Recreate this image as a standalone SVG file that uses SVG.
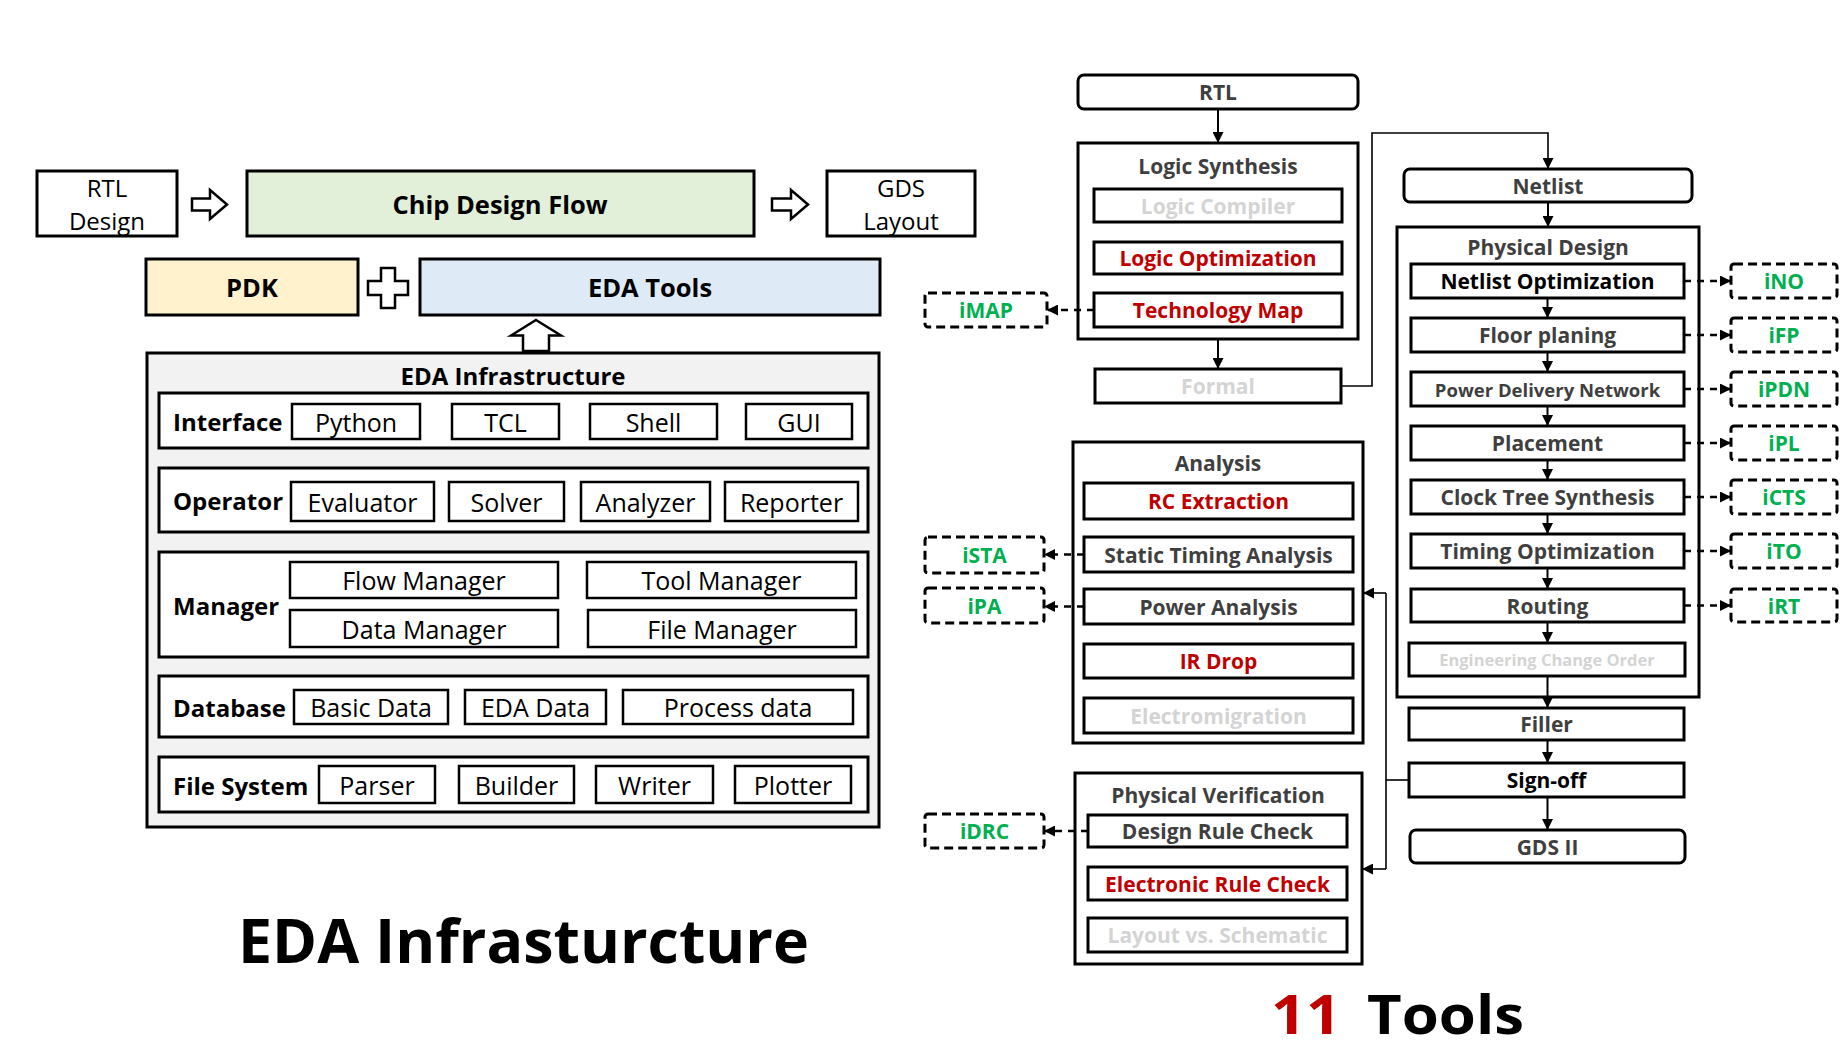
<svg xmlns="http://www.w3.org/2000/svg" width="1845" height="1051" viewBox="0 0 1845 1051">
<defs>
<style>
.b{fill:#fff;stroke:#000;stroke-width:3}
.b2{fill:#fff;stroke:#000;stroke-width:2.5}
.d{fill:#fff;stroke:#000;stroke-width:3;stroke-dasharray:9 5}
.ho{fill:#fff;stroke:#000;stroke-width:2.5;stroke-linejoin:miter}
text{font-family:"Open Sans","Noto Sans","DejaVu Sans",sans-serif;text-anchor:middle;dominant-baseline:central;fill:#000}
.L{font-size:25px}
.L2{font-size:24px}
.LB{font-size:25.5px;font-weight:bold}
.lab{font-size:24px;font-weight:bold;text-anchor:start}
.R{font-size:21px;font-weight:bold;fill:#3f3f3f}
.red{fill:#c00000}
.pale{fill:#d4d4d4}
.grn{fill:#00b050}
.blk{fill:#000}
.big{font-size:60px;font-weight:bold;text-anchor:start;dominant-baseline:auto}
.c{fill:none;stroke:#000;stroke-width:2}
.ct{fill:none;stroke:#000;stroke-width:1.6}
.cd{fill:none;stroke:#000;stroke-width:2.5;stroke-dasharray:7 6}
</style>
<marker id="ah" viewBox="0 0 10 10" refX="10" refY="5" markerWidth="11" markerHeight="11" markerUnits="userSpaceOnUse" orient="auto">
<path d="M0,0 L10,5 L0,10 z" fill="#000"/>
</marker>
</defs>

<rect width="1845" height="1051" fill="#fff"/>

<!-- ===== Left: design flow overview ===== -->
<g id="rtl-design">
<rect class="b" x="37" y="171" width="140" height="65"/>
<text class="L2" x="107" y="187">RTL</text>
<text class="L2" x="107" y="220">Design</text>
</g>
<g id="arrow-in">
<polygon class="ho" points="192,198.5 210,198.5 210,190 227,204.5 210,219 210,210.5 192,210.5"/>
</g>
<g id="chip-design-flow">
<rect class="b" x="247" y="171" width="507" height="65" style="fill:#e2f0d9"/>
<text class="LB" x="500" y="204">Chip Design Flow</text>
</g>
<g id="arrow-out">
<polygon class="ho" points="772,198.5 791,198.5 791,190 808,204.5 791,219 791,210.5 772,210.5"/>
</g>
<g id="gds-layout">
<rect class="b" x="827" y="171" width="148" height="65"/>
<text class="L2" x="901" y="187">GDS</text>
<text class="L2" x="901" y="220">Layout</text>
</g>
<g id="pdk">
<rect class="b" x="146" y="259" width="212" height="56" style="fill:#fff2cc"/>
<text class="LB" x="252" y="287">PDK</text>
</g>
<g id="plus">
<polygon class="ho" points="381,268 395,268 395,281 408,281 408,295 395,295 395,308 381,308 381,295 368,295 368,281 381,281"/>
</g>
<g id="eda-tools">
<rect class="b" x="420" y="259" width="460" height="56" style="fill:#deebf7"/>
<text class="LB" x="650" y="287">EDA Tools</text>
</g>
<g id="arrow-up">
<polygon class="ho" points="536,320 561,335.5 549,335.5 549,351 523,351 523,335.5 511,335.5"/>
</g>

<!-- ===== Left: infrastructure stack ===== -->
<g id="eda-infrastructure">
<rect class="b" x="147" y="353" width="732" height="474" style="fill:#f2f2f2"/>
<text class="lab" x="513" y="375" style="text-anchor:middle">EDA Infrastructure</text>

<g id="layer-interface">
<rect class="b" x="159" y="393" width="709" height="55"/>
<text class="lab" x="173" y="421">Interface</text>
<rect class="b2" x="292" y="404" width="128" height="35"/><text class="L" x="356" y="421.5">Python</text>
<rect class="b2" x="452" y="404" width="107" height="35"/><text class="L" x="505.5" y="421.5">TCL</text>
<rect class="b2" x="590" y="404" width="127" height="35"/><text class="L" x="653.5" y="421.5">Shell</text>
<rect class="b2" x="746" y="404" width="106" height="35"/><text class="L" x="799" y="421.5">GUI</text>
</g>

<g id="layer-operator">
<rect class="b" x="159" y="468" width="709" height="64"/>
<text class="lab" x="173" y="500">Operator</text>
<rect class="b2" x="291" y="482" width="143" height="39"/><text class="L" x="362.5" y="501.5">Evaluator</text>
<rect class="b2" x="449" y="482" width="115" height="39"/><text class="L" x="506.5" y="501.5">Solver</text>
<rect class="b2" x="581" y="482" width="129" height="39"/><text class="L" x="645.5" y="501.5">Analyzer</text>
<rect class="b2" x="725" y="482" width="133" height="39"/><text class="L" x="791.5" y="501.5">Reporter</text>
</g>

<g id="layer-manager">
<rect class="b" x="159" y="552" width="709" height="105"/>
<text class="lab" x="173" y="605">Manager</text>
<rect class="b2" x="290" y="562" width="268" height="36"/><text class="L" x="424" y="580">Flow Manager</text>
<rect class="b2" x="587" y="562" width="269" height="36"/><text class="L" x="721.5" y="580">Tool Manager</text>
<rect class="b2" x="290" y="610" width="268" height="37"/><text class="L" x="424" y="628.5">Data Manager</text>
<rect class="b2" x="588" y="610" width="268" height="37"/><text class="L" x="722" y="628.5">File Manager</text>
</g>

<g id="layer-database">
<rect class="b" x="159" y="676" width="709" height="61"/>
<text class="lab" x="173" y="707">Database</text>
<rect class="b2" x="294" y="690" width="154" height="34"/><text class="L" x="371" y="707">Basic Data</text>
<rect class="b2" x="465" y="690" width="141" height="34"/><text class="L" x="535.5" y="707">EDA Data</text>
<rect class="b2" x="623" y="690" width="230" height="34"/><text class="L" x="738" y="707">Process data</text>
</g>

<g id="layer-filesystem">
<rect class="b" x="159" y="757" width="709" height="55"/>
<text class="lab" x="173" y="785">File System</text>
<rect class="b2" x="319" y="766" width="116" height="37"/><text class="L" x="377" y="784.5">Parser</text>
<rect class="b2" x="459" y="766" width="115" height="37"/><text class="L" x="516.5" y="784.5">Builder</text>
<rect class="b2" x="596" y="766" width="117" height="37"/><text class="L" x="654.5" y="784.5">Writer</text>
<rect class="b2" x="735" y="766" width="116" height="37"/><text class="L" x="793" y="784.5">Plotter</text>
</g>
</g>

<g id="title-left">
<text class="big" x="238" y="963" textLength="571" lengthAdjust="spacingAndGlyphs">EDA Infrasturcture</text>
</g>
<g id="title-right">
<text class="big red" x="1271" y="1034" textLength="70" lengthAdjust="spacingAndGlyphs" style="font-size:54px">11</text>
<text class="big" x="1367" y="1034" textLength="157" lengthAdjust="spacingAndGlyphs" style="font-size:54px">Tools</text>
</g>

<!-- ===== Right: tool flow ===== -->
<g id="rtl">
<rect class="b" x="1078" y="75" width="280" height="34" rx="6"/>
<text class="R" x="1218" y="92">RTL</text>
</g>

<g id="logic-synthesis">
<rect class="b" x="1078" y="143" width="280" height="196"/>
<text class="R" x="1218" y="166">Logic Synthesis</text>
<rect class="b" x="1094" y="189" width="248" height="33"/><text class="R pale" x="1218" y="205.5">Logic Compiler</text>
<rect class="b" x="1094" y="242" width="248" height="32"/><text class="R red" x="1218" y="258">Logic Optimization</text>
<rect class="b" x="1094" y="293" width="248" height="34"/><text class="R red" x="1218" y="310">Technology Map</text>
</g>

<g id="imap">
<rect class="d" x="925" y="293" width="122" height="34" rx="3"/>
<text class="R grn" x="986" y="310">iMAP</text>
</g>

<g id="formal">
<rect class="b" x="1095" y="369" width="246" height="34"/>
<text class="R pale" x="1218" y="386">Formal</text>
</g>

<g id="netlist">
<rect class="b" x="1404" y="169" width="288" height="33" rx="6"/>
<text class="R" x="1548" y="185.5">Netlist</text>
</g>

<g id="physical-design">
<rect class="b" x="1397" y="227" width="302" height="470"/>
<text class="R" x="1548" y="247">Physical Design</text>
<rect class="b" x="1411" y="264" width="273" height="34"/><text class="R blk" x="1547.5" y="281">Netlist Optimization</text>
<rect class="b" x="1411" y="318" width="273" height="34"/><text class="R" x="1547.5" y="335">Floor planing</text>
<rect class="b" x="1411" y="372" width="273" height="34"/><text class="R" x="1547.5" y="389" style="font-size:18.5px">Power Delivery Network</text>
<rect class="b" x="1411" y="426" width="273" height="34"/><text class="R" x="1547.5" y="443">Placement</text>
<rect class="b" x="1411" y="480" width="273" height="34"/><text class="R" x="1547.5" y="497">Clock Tree Synthesis</text>
<rect class="b" x="1411" y="534" width="273" height="34"/><text class="R" x="1547.5" y="551">Timing Optimization</text>
<rect class="b" x="1411" y="589" width="273" height="33"/><text class="R" x="1547.5" y="605.5">Routing</text>
<rect class="b" x="1409" y="643" width="276" height="33"/><text class="R pale" x="1547" y="659.5" style="font-size:16.5px">Engineering Change Order</text>
</g>

<g id="filler">
<rect class="b" x="1409" y="708" width="275" height="32"/>
<text class="R" x="1546.5" y="724">Filler</text>
</g>
<g id="sign-off">
<rect class="b" x="1409" y="763" width="275" height="34"/>
<text class="R blk" x="1546.5" y="780">Sign-off</text>
</g>
<g id="gds-ii">
<rect class="b" x="1410" y="830" width="275" height="33" rx="6"/>
<text class="R" x="1547.5" y="846.5">GDS II</text>
</g>

<g id="ino"><rect class="d" x="1731" y="264" width="106" height="34" rx="3"/><text class="R grn" x="1784" y="281">iNO</text></g>
<g id="ifp"><rect class="d" x="1731" y="318" width="106" height="34" rx="3"/><text class="R grn" x="1784" y="335">iFP</text></g>
<g id="ipdn"><rect class="d" x="1731" y="372" width="106" height="34" rx="3"/><text class="R grn" x="1784" y="389">iPDN</text></g>
<g id="ipl"><rect class="d" x="1731" y="426" width="106" height="34" rx="3"/><text class="R grn" x="1784" y="443">iPL</text></g>
<g id="icts"><rect class="d" x="1731" y="480" width="106" height="34" rx="3"/><text class="R grn" x="1784" y="497">iCTS</text></g>
<g id="ito"><rect class="d" x="1731" y="534" width="106" height="34" rx="3"/><text class="R grn" x="1784" y="551">iTO</text></g>
<g id="irt"><rect class="d" x="1731" y="589" width="106" height="33" rx="3"/><text class="R grn" x="1784" y="605.5">iRT</text></g>

<g id="analysis">
<rect class="b" x="1073" y="442" width="290" height="301"/>
<text class="R" x="1218" y="463">Analysis</text>
<rect class="b" x="1084" y="483" width="269" height="36"/><text class="R red" x="1218.5" y="501">RC Extraction</text>
<rect class="b" x="1084" y="537" width="269" height="35"/><text class="R" x="1218.5" y="554.5">Static Timing Analysis</text>
<rect class="b" x="1084" y="589" width="269" height="35"/><text class="R" x="1218.5" y="606.5">Power Analysis</text>
<rect class="b" x="1084" y="644" width="269" height="34"/><text class="R red" x="1218.5" y="661">IR Drop</text>
<rect class="b" x="1084" y="698" width="269" height="35"/><text class="R pale" x="1218.5" y="715.5">Electromigration</text>
</g>

<g id="ista"><rect class="d" x="925" y="537" width="119" height="36" rx="3"/><text class="R grn" x="984.5" y="555">iSTA</text></g>
<g id="ipa"><rect class="d" x="925" y="588" width="119" height="35" rx="3"/><text class="R grn" x="984.5" y="605.5">iPA</text></g>

<g id="physical-verification">
<rect class="b" x="1075" y="773" width="287" height="191"/>
<text class="R" x="1218" y="795">Physical Verification</text>
<rect class="b" x="1088" y="815" width="259" height="32"/><text class="R" x="1217.5" y="831">Design Rule Check</text>
<rect class="b" x="1088" y="867" width="259" height="33"/><text class="R red" x="1217.5" y="883.5">Electronic Rule Check</text>
<rect class="b" x="1088" y="918" width="259" height="34"/><text class="R pale" x="1217.5" y="935">Layout vs. Schematic</text>
</g>

<g id="idrc"><rect class="d" x="925" y="814" width="119" height="34" rx="3"/><text class="R grn" x="984.5" y="831">iDRC</text></g>

<!-- ===== Connectors ===== -->
<g id="connectors">
<path class="c" d="M1218,109 V143" marker-end="url(#ah)"/>
<path class="c" d="M1218,339 V369" marker-end="url(#ah)"/>
<path class="ct" d="M1341,386 H1372 V133 H1548 V169" marker-end="url(#ah)"/>
<path class="c" d="M1548,202 V227" marker-end="url(#ah)"/>
<path class="c" d="M1547.5,298 V318" marker-end="url(#ah)"/>
<path class="c" d="M1547.5,352 V372" marker-end="url(#ah)"/>
<path class="c" d="M1547.5,406 V426" marker-end="url(#ah)"/>
<path class="c" d="M1547.5,460 V480" marker-end="url(#ah)"/>
<path class="c" d="M1547.5,514 V534" marker-end="url(#ah)"/>
<path class="c" d="M1547.5,568 V589" marker-end="url(#ah)"/>
<path class="c" d="M1547.5,622 V643" marker-end="url(#ah)"/>
<path class="c" d="M1547.5,676 V708" marker-end="url(#ah)"/>
<path class="c" d="M1547.5,740 V763" marker-end="url(#ah)"/>
<path class="c" d="M1547.5,797 V830" marker-end="url(#ah)"/>
<!-- sign-off feeds analysis and verification -->
<path class="ct" d="M1409,780 H1386"/>
<path class="ct" d="M1386,593 V869"/>
<path class="ct" d="M1386,593 H1363" marker-end="url(#ah)"/>
<path class="ct" d="M1386,869 H1362" marker-end="url(#ah)"/>
<!-- dashed links to tools -->
<path class="cd" d="M1094,310 H1047" marker-end="url(#ah)"/>
<path class="cd" d="M1084,554.5 H1044" marker-end="url(#ah)"/>
<path class="cd" d="M1084,606.5 H1044" marker-end="url(#ah)"/>
<path class="cd" d="M1088,831 H1044" marker-end="url(#ah)"/>
<path class="cd" d="M1684,281 H1731" marker-end="url(#ah)"/>
<path class="cd" d="M1684,335 H1731" marker-end="url(#ah)"/>
<path class="cd" d="M1684,389 H1731" marker-end="url(#ah)"/>
<path class="cd" d="M1684,443 H1731" marker-end="url(#ah)"/>
<path class="cd" d="M1684,497 H1731" marker-end="url(#ah)"/>
<path class="cd" d="M1684,551 H1731" marker-end="url(#ah)"/>
<path class="cd" d="M1684,605.5 H1731" marker-end="url(#ah)"/>
</g>
</svg>
